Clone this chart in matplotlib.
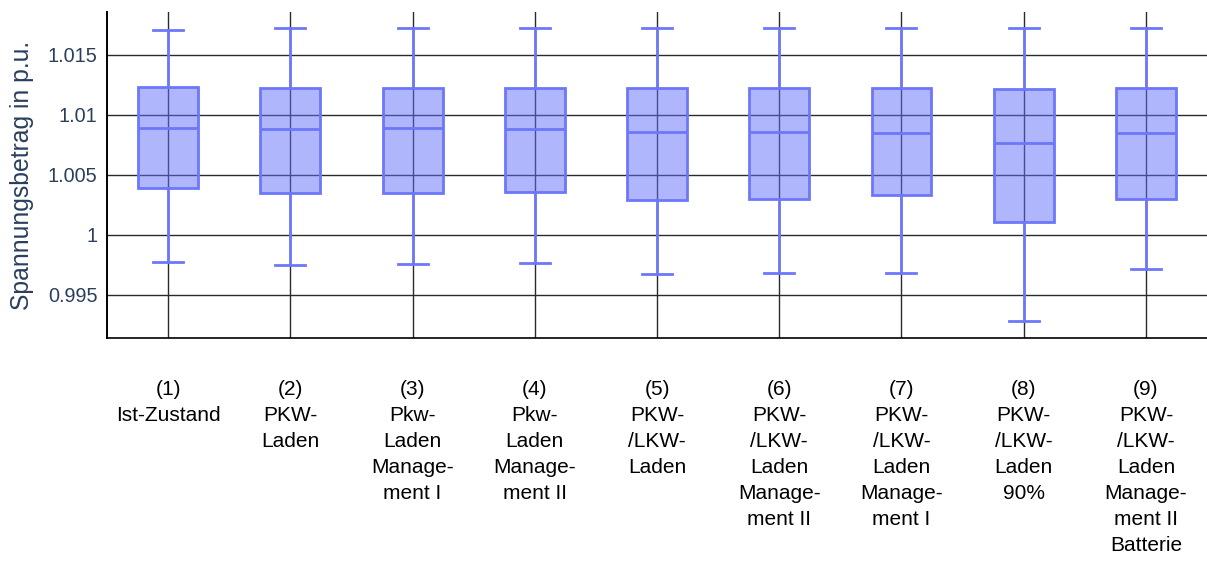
import matplotlib
matplotlib.use("Agg")
import matplotlib.pyplot as plt

plt.rcParams['font.family'] = ['Liberation Sans', 'DejaVu Sans']

# Scenario labels
labels = [
    "(1)\nIst-Zustand",
    "(2)\nPKW-\nLaden",
    "(3)\nPkw-\nLaden\nManage-\nment I",
    "(4)\nPkw-\nLaden\nManage-\nment II",
    "(5)\nPKW-\n/LKW-\nLaden",
    "(6)\nPKW-\n/LKW-\nLaden\nManage-\nment II",
    "(7)\nPKW-\n/LKW-\nLaden\nManage-\nment I",
    "(8)\nPKW-\n/LKW-\nLaden\n90%",
    "(9)\nPKW-\n/LKW-\nLaden\nManage-\nment II\nBatterie",
]

# Voltage statistics in p.u. per scenario
whisker_low = [0.99775, 0.99750, 0.99756, 0.99764, 0.99675, 0.99683, 0.99683, 0.99278, 0.99712]
quartile_1 = [1.00392, 1.00348, 1.00348, 1.00353, 1.00289, 1.00295, 1.00328, 1.00106, 1.00295]
median = [1.00887, 1.00883, 1.00887, 1.00883, 1.00856, 1.00856, 1.00850, 1.00767, 1.00850]
quartile_3 = [1.01231, 1.01225, 1.01225, 1.01225, 1.01220, 1.01220, 1.01220, 1.01214, 1.01220]
whisker_high = [1.01703, 1.01722, 1.01722, 1.01722, 1.01722, 1.01722, 1.01722, 1.01722, 1.01722]

stats = []
for lo, q1, med, q3, hi in zip(whisker_low, quartile_1, median, quartile_3, whisker_high):
    stats.append(dict(whislo=lo, q1=q1, med=med, q3=q3, whishi=hi, fliers=[]))

fig = plt.figure(figsize=(12.07, 5.63), dpi=100)
ax = fig.add_axes([107 / 1207, 225 / 563, 1100 / 1207, 326 / 563])

line_col = '#6c77fa'
positions = list(range(1, len(stats) + 1))
ax.bxp(stats, positions=positions, widths=0.49, capwidths=0.245,
       patch_artist=True, showfliers=False,
       boxprops=dict(facecolor=(99 / 255, 110 / 255, 250 / 255, 0.5), edgecolor=line_col, linewidth=2),
       medianprops=dict(color=line_col, linewidth=2),
       whiskerprops=dict(color=line_col, linewidth=2),
       capprops=dict(color=line_col, linewidth=2))

ax.set_xlim(0.5, 9.5)
ax.set_ylim(0.99139, 1.01856)
ax.set_yticks([0.995, 1.0, 1.005, 1.01, 1.015])
ax.set_yticklabels(["0.995", "1", "1.005", "1.01", "1.015"])
ax.set_xticks(positions)
ax.set_xticklabels(labels, fontsize=15, color='black', linespacing=1.46, va='top')

ax.set_axisbelow(True)
ax.grid(True, color='#2a2a2a', linewidth=1)
ax.tick_params(axis='both', length=0)
ax.tick_params(axis='y', labelsize=14.3, labelcolor='#2a3f5f', pad=7)
ax.tick_params(axis='x', pad=30.5)

for s in ['top', 'right']:
    ax.spines[s].set_visible(False)
ax.spines['left'].set_color('black')
ax.spines['bottom'].set_color('black')
ax.spines['left'].set_linewidth(1.4)
ax.spines['bottom'].set_linewidth(1.2)

ax.set_ylabel("Spannungsbetrag in p.u.", fontsize=17.8, color='#2a3f5f')
ax.yaxis.set_label_coords(-0.066, 0.5)

fig.savefig("out.png", dpi=100)
